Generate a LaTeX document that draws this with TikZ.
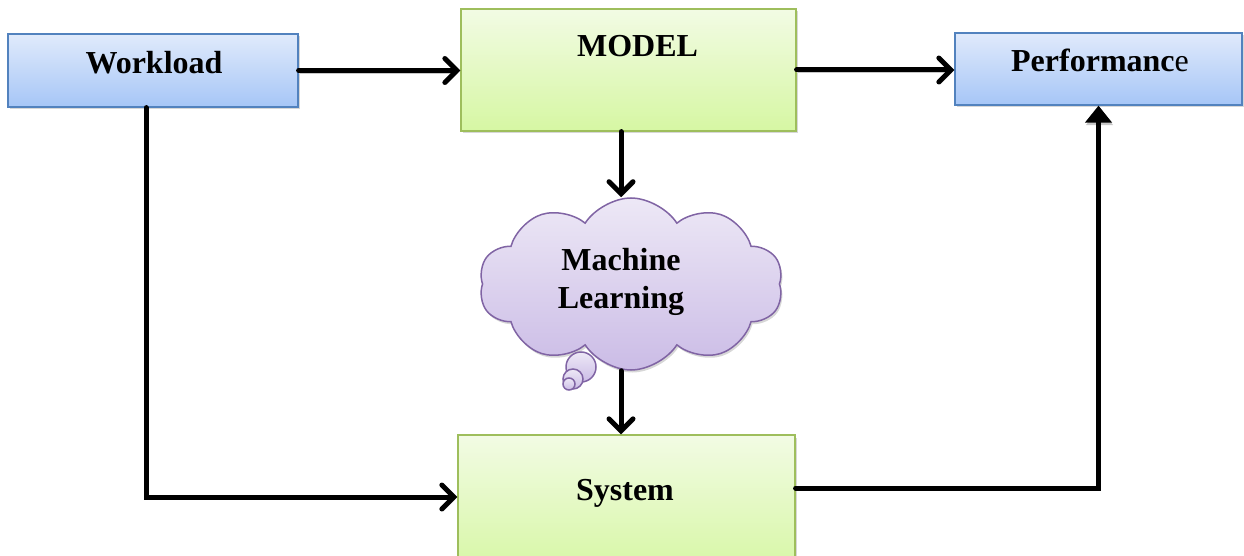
\documentclass[tikz,border=0pt]{standalone}
\usepackage{fontspec}
\setmainfont{Liberation Serif}
\usetikzlibrary{arrows.meta,shapes.symbols,shadows}

\definecolor{blueTop}{RGB}{224,234,251}
\definecolor{blueBot}{RGB}{166,198,247}
\definecolor{blueLine}{RGB}{82,130,190}
\definecolor{greenTop}{RGB}{242,251,228}
\definecolor{greenBot}{RGB}{214,247,163}
\definecolor{greenLine}{RGB}{158,190,92}
\definecolor{purpTop}{RGB}{237,232,246}
\definecolor{purpBot}{RGB}{203,188,230}
\definecolor{purpLine}{RGB}{128,100,164}

\tikzset{
  softshadow/.style={drop shadow={shadow xshift=1.5pt, shadow yshift=-2.5pt, opacity=0.35, fill=black!45}},
  bluebox/.style={draw=blueLine, line width=1.2pt, top color=blueTop, bottom color=blueBot,
    rectangle, inner sep=0pt, softshadow},
  greenbox/.style={draw=greenLine, line width=1.2pt, top color=greenTop, bottom color=greenBot,
    rectangle, inner sep=0pt, softshadow},
  thought/.style={draw=purpLine, line width=1.5pt, top color=purpTop, bottom color=purpBot},
  lbl/.style={font=\fontsize{32}{38}\selectfont\bfseries, anchor=base, inner sep=0pt},
  wire/.style={line width=5pt, black, line cap=round, line join=miter,
    preaction={draw=black!22, transform canvas={xshift=1pt, yshift=-2.5pt}}},
  barb/.style={-{Straight Barb[length=12pt, width=24pt, line cap=round]}},
  tri/.style={-{Triangle[length=17pt, width=26pt]}},
}

\begin{document}
\begin{tikzpicture}[x=1pt, y=-1pt]
\useasboundingbox (0,0) rectangle (1244,556);
\clip (0,0) rectangle (1244,556);

% boxes
\node[bluebox, minimum width=290pt, minimum height=73pt] (work) at (153,70.5) {};
\node[greenbox, minimum width=335pt, minimum height=122pt] (model) at (628.5,70) {};
\node[bluebox, minimum width=287pt, minimum height=72pt] (perf) at (1098.5,69) {};
\node[greenbox, minimum width=337pt, minimum height=140pt] (sys) at (626.5,505) {};

% cloud with its thought bubbles
\node[cloud, cloud puffs=10, cloud puff arc=115, cloud ignores aspect,
      minimum width=304pt, minimum height=172pt, inner sep=0pt,
      thought, softshadow] (ml) at (631,284) {};
\node[circle, thought, minimum size=30pt, inner sep=0pt] (b1) at (581,367) {};
\node[circle, thought, minimum size=20pt, inner sep=0pt] (b2) at (573,379) {};
\node[circle, thought, minimum size=12pt, inner sep=0pt] (b3) at (569,384) {};

% labels
\node[lbl] (workT) at (154,74) {Workload};
\node[lbl] (modelT) at (637.5,56.5) {MODEL};
\node[lbl] (perfT) at (1100,71.5) {Performanc\mdseries e};
\node[lbl] (sysT) at (625,500) {System};
\node[lbl, align=center] (mlT) at (621,308) {Machine\\Learning};

% connectors
\draw[wire, barb] (work.east) -- (work.east -| model.west);
\draw[wire, barb] (model.east) -- (model.east -| perf.west);
\draw[wire, barb] (model.south -| mlT) -- (ml.north -| mlT);
\draw[wire, barb] (ml.south -| mlT) -- (sys.north -| mlT);
\draw[wire, barb] ([xshift=-7pt]work.south) |- ([yshift=8pt]sys.west);
\draw[wire, tri] ([yshift=17pt]sys.east) -| (perf.south);
\end{tikzpicture}
\end{document}
